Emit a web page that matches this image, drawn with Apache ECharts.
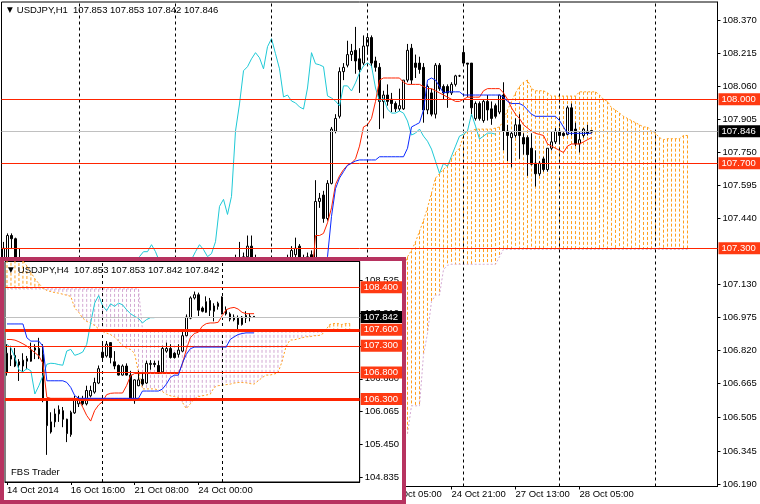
<!DOCTYPE html>
<html><head><meta charset="utf-8">
<script src="https://cdn.jsdelivr.net/npm/echarts@6/dist/echarts.min.js"></script>
<style>
html,body{margin:0;padding:0;background:#fff;overflow:hidden;}
#main{position:absolute;left:0;top:0;width:760px;height:504px;}
#insetBox{position:absolute;left:0;top:257px;width:406px;height:247px;box-sizing:border-box;border:4px solid #B73360;background:#fff;z-index:2;}
#inset{position:absolute;left:0;top:0;width:398px;height:239px;}
</style></head><body>
<div id="main"></div>
<div id="insetBox"><div id="inset"></div></div>
<script>
// ===== MAIN CHART (USDJPY, H1) =====
const mainTitle = 'USDJPY,H1  107.853 107.853 107.842 107.846';
const mainTickLabels = ['20 Oct 05:00','20 Oct 21:00','21 Oct 13:00','22 Oct 05:00','22 Oct 21:00','23 Oct 13:00','24 Oct 05:00','24 Oct 21:00','27 Oct 13:00','28 Oct 05:00'];
const mainYLabels = [108.370,108.215,108.060,107.905,107.750,107.595,107.440,107.130,106.975,106.820,106.665,106.505,106.345,106.190];
const mainLevels = [108.000,107.700,107.300];
const mainLevelWidths = [1,1,1];
const mainBid = 107.846;
const mainSeparators = [19,43,67,91,115,139,163];
// [open, close, low, high]
const mainCandles = [
[107.25,107.30,107.22,107.33],[107.25,107.36,107.22,107.37],[107.36,107.345,107.30,107.37],[107.345,107.25,107.18,107.35],[107.24,107.22,107.15,107.30],
[107.22,107.15,107.12,107.24],[107.15,107.10,107.07,107.18],[107.10,107.05,107.02,107.13],[107.05,107.00,106.97,107.08],[107.00,106.95,106.92,107.03],
[106.95,106.92,106.89,106.98],[106.92,106.90,106.86,106.95],[106.90,106.85,106.82,106.93],[106.85,106.80,106.77,106.88],[106.80,106.76,106.73,106.83],
[106.76,106.80,106.74,106.83],[106.80,106.86,106.78,106.89],[106.86,106.90,106.84,106.93],[106.90,106.92,106.87,106.95],[106.92,106.88,106.85,106.94],
[106.88,106.85,106.82,106.90],[106.85,106.80,106.77,106.87],[106.80,106.76,106.72,106.83],[106.76,106.60,106.56,106.78],[106.60,106.45,106.40,106.63],
[106.45,106.35,106.30,106.48],[106.35,106.30,106.25,106.38],[106.30,106.35,106.27,106.38],[106.35,106.45,106.33,106.48],[106.45,106.55,106.43,106.58],
[106.55,106.62,106.52,106.65],[106.62,106.66,106.59,106.69],[106.66,106.64,106.60,106.69],[106.64,106.62,106.58,106.67],[106.62,106.60,106.56,106.65],
[106.60,106.58,106.55,106.63],[106.58,106.62,106.56,106.65],[106.62,106.70,106.60,106.73],[106.70,106.80,106.68,106.83],[106.80,106.90,106.78,106.93],
[106.90,106.97,106.88,107.00],[106.97,106.96,106.93,107.00],[106.96,106.98,106.94,107.01],[106.98,106.95,106.92,107.01],[106.95,106.97,106.93,107.00],
[106.97,106.95,106.92,107.00],[106.95,106.90,106.87,106.98],[106.90,106.85,106.82,106.93],[106.85,106.80,106.77,106.88],[106.80,106.82,106.78,106.85],
[106.82,106.90,106.80,106.93],[106.90,107.00,106.88,107.03],[107.00,107.10,106.98,107.13],[107.10,107.15,107.08,107.18],[107.15,107.20,107.13,107.22],
[107.20,107.22,107.17,107.24],[107.22,107.20,107.16,107.24],
[107.20,107.23,107.17,107.25],[107.23,107.255,107.20,107.27],[107.25,107.24,107.20,107.33],[107.24,107.26,107.22,107.28],[107.26,107.31,107.24,107.36],
[107.31,107.25,107.22,107.36],[107.25,107.24,107.18,107.27],
[107.24,107.22,107.18,107.25],[107.22,107.15,107.12,107.24],[107.15,107.10,107.07,107.18],[107.10,107.05,107.02,107.13],[107.05,107.08,107.03,107.11],
[107.08,107.12,107.06,107.15],[107.12,107.18,107.10,107.22],
[107.20,107.25,107.18,107.27],[107.25,107.29,107.23,107.31],[107.27,107.30,107.24,107.35],[107.31,107.25,107.20,107.32],[107.25,107.24,107.20,107.27],
[107.22,107.26,107.20,107.28],[107.27,107.23,107.20,107.29],
[107.23,107.52,107.22,107.62],[107.52,107.535,107.49,107.56],[107.55,107.44,107.42,107.57],[107.44,107.605,107.43,107.62],[107.605,107.86,107.60,107.87],
[107.85,107.91,107.84,107.93],[107.92,108.13,107.91,108.15],[108.13,108.15,108.09,108.17],[108.16,108.21,108.15,108.275],[108.21,108.225,108.18,108.26],
[108.23,108.18,108.12,108.34],[108.19,108.14,108.03,108.24],[108.17,108.25,108.16,108.30],[108.25,108.29,108.21,108.31],[108.29,108.17,108.15,108.30],
[108.18,108.15,108.13,108.20],[108.15,107.99,107.86,108.17],[107.99,108.02,107.91,108.04],[108.02,107.99,107.97,108.07],[108.00,107.98,107.94,108.03],
[107.98,107.955,107.94,107.99],[107.955,107.97,107.945,108.05],[107.955,108.09,107.95,108.09],[108.09,108.23,108.08,108.26],[108.24,108.09,108.07,108.26],
[108.17,108.15,108.10,108.21],[108.17,108.14,108.12,108.20],[108.15,107.95,107.89,108.17],[107.95,108.06,107.93,108.07],[108.03,107.93,107.92,108.05],
[107.93,108.16,107.91,108.17],[108.16,108.05,108.04,108.17],[108.06,108.03,108.00,108.07],[108.06,108.03,107.96,108.07],[108.03,108.07,108.02,108.08],
[108.07,108.11,108.06,108.115],[108.11,108.11,108.105,108.115],[108.22,108.17,108.16,108.25],[108.17,108.165,108.01,108.17],[108.17,107.96,107.92,108.17],
[107.91,107.98,107.90,107.99],[107.98,107.91,107.90,107.99],[107.90,107.99,107.89,108.00],[107.99,107.95,107.90,108.02],[107.955,107.91,107.88,107.99],
[107.97,107.92,107.91,107.98],[107.94,108.02,107.93,108.02],[108.02,107.85,107.76,108.08],[107.85,107.83,107.71,107.88],[107.82,107.84,107.68,107.85],
[107.83,107.88,107.82,107.91],[107.88,107.83,107.72,107.93],[107.82,107.79,107.74,107.84],[107.82,107.74,107.64,107.83],[107.77,107.695,107.69,107.84],
[107.70,107.65,107.59,107.76],[107.65,107.70,107.64,107.71],[107.72,107.67,107.66,107.73],[107.67,107.77,107.66,107.77],[107.77,107.80,107.76,107.85],
[107.80,107.85,107.79,107.865],[107.85,107.83,107.79,107.865],[107.84,107.83,107.825,107.845],[107.835,107.96,107.83,107.97],[107.96,107.85,107.83,107.98],
[107.86,107.79,107.78,107.89],[107.79,107.81,107.75,107.85],[107.83,107.86,107.82,107.865],[107.85,107.84,107.83,107.88],[107.853,107.846,107.842,107.853]
];
const mainTenkan = [
107.10,107.10,107.10,107.10,107.10,107.10,107.10,107.10,107.10,107.10,107.10,
106.95,106.95,106.95,106.95,106.95,106.95,106.95,106.95,106.95,106.95,
106.80,106.80,106.80,106.80,106.80,106.80,106.80,106.80,106.80,106.80,
106.60,106.60,106.60,106.60,106.60,106.60,106.60,106.60,106.60,106.60,
106.75,106.75,106.75,106.75,106.75,106.75,106.75,106.75,106.75,106.75,
106.90,106.90,106.90,106.90,106.90,106.90,106.90,106.90,106.90,106.90,
107.05,107.05,107.05,107.05,107.05,107.05,107.05,107.05,107.05,107.05,
107.15,107.15,107.15,107.15,107.15,107.15,107.15,
107.36,107.36,107.37,107.42,107.49,107.60,107.64,107.67,107.69,107.70,
107.72,107.78,107.87,107.88,107.91,107.99,108.09,108.10,108.10,108.10,
108.10,108.10,108.08,108.07,108.07,108.07,108.07,108.06,108.05,108.05,
108.04,108.03,108.02,108.01,108.00,107.99,107.99,108.00,108.01,108.01,
108.01,108.01,108.04,108.05,108.05,108.05,108.05,108.03,108.00,107.96,
107.93,107.91,107.88,107.865,107.85,107.84,107.835,107.83,107.79,107.78,
107.77,107.76,107.75,107.78,107.79,107.79,107.79,107.80,107.81,107.82
];
const mainKijun = [
107.00,107.00,107.00,107.00,107.00,107.00,107.00,107.00,107.00,107.00,107.00,107.00,107.00,107.00,107.00,107.00,
107.00,107.00,107.00,107.00,107.00,107.00,107.00,107.00,107.00,107.00,107.00,107.00,107.00,107.00,107.00,
106.70,106.70,106.70,106.70,106.70,106.70,106.70,106.70,106.70,106.70,106.70,106.70,106.70,106.70,106.70,
106.70,106.70,106.70,106.70,106.70,106.70,106.70,106.70,106.70,106.70,106.70,106.70,106.70,106.70,106.70,
106.85,106.85,106.85,106.85,106.85,106.85,106.85,106.85,106.85,106.85,
106.85,106.85,106.85,106.85,106.85,106.85,106.85,106.85,106.85,106.85,
107.26,107.45,107.58,107.63,107.66,107.69,107.70,107.71,107.715,107.715,
107.715,107.715,107.715,107.73,107.73,107.73,107.73,107.73,107.73,107.73,
107.77,107.87,107.88,107.89,107.95,108.09,108.10,108.09,108.06,108.03,
108.035,108.035,108.035,108.035,
108.02,108.02,108.02,108.02,108.02,108.02,108.02,108.02,108.02,108.02,
108.01,107.99,107.98,107.98,107.98,107.97,107.95,107.93,
107.92,107.92,107.92,107.92,107.92,107.92,
107.90,107.87,107.84,
107.84,107.84,107.84,107.84,107.84,107.84
];
const mainChikou = [
106.45,106.35,106.30,106.35,106.45,106.55,106.62,106.66,106.64,106.62,106.60,106.58,106.62,106.70,106.80,106.90,106.97,
106.96,106.98,106.95,106.97,106.95,106.90,106.85,106.80,106.82,106.90,107.00,107.10,107.15,107.20,107.22,107.20,107.23,
107.261,107.284,107.284,107.317,107.284,107.237,107.19,107.15,107.10,107.08,107.12,107.18,107.22,107.247,107.284,107.317,
107.294,107.261,107.275,107.331,107.497,107.530,107.459,107.544,107.851,107.978,108.134,108.153,108.190,108.219,108.195,
108.143,108.247,108.285,108.214,108.143,108.011,108.020,107.992,107.983,107.964,107.954,108.053,108.219,108.167,108.162,
108.153,108.016,108.006,107.992,107.969,108.063,108.063,108.039,108.077,108.124,108.157,108.171,108.157,108.053,107.992,
108.006,107.954,107.935,107.935,107.945,107.935,107.898,107.832,107.841,107.860,107.827,107.803,107.766,107.709,107.652,
107.699,107.685,107.733,107.780,107.827,107.836,107.851,107.931,107.874,107.813,107.827,107.841,107.841,107.836
];
const mainSpanA = [
106.95,106.95,106.95,106.95,106.95,106.95,106.95,106.95,106.95,106.95,106.95,106.95,106.95,106.95,106.95,106.95,106.95,106.95,106.95,106.95,106.95,
106.85,106.85,106.85,106.85,106.85,106.85,106.85,106.85,106.85,106.85,106.85,106.85,106.85,106.85,106.85,106.85,106.85,106.85,106.85,106.85,
106.70,106.70,106.70,106.70,106.70,106.70,106.70,106.70,106.70,106.70,106.70,106.70,106.70,106.70,106.70,106.70,106.70,106.70,106.70,106.70,
106.60,106.60,106.60,106.60,106.60,106.60,106.60,106.60,106.60,106.60,106.60,106.60,106.60,106.60,106.60,106.60,106.60,106.60,106.60,106.60,
106.80,106.80,106.80,106.80,106.80,106.80,106.80,106.80,106.80,106.80,106.80,106.80,106.80,106.80,106.80,
107.00,107.05,107.10,107.15,107.20,
107.26,107.29,107.33,107.38,107.43,107.49,107.56,107.63,107.65,107.67,
107.69,107.72,107.75,107.77,107.83,107.85,107.85,107.86,107.86,107.86,
107.86,107.86,107.865,107.87,107.90,107.95,107.99,108.03,108.06,108.08,
108.09,108.05,108.04,108.04,108.04,108.03,108.015,108.015,108.015,108.015,
108.015,108.015,108.015,108.035,108.035,108.035,108.035,108.035,108.02,108.00,
107.99,107.96,107.95,107.935,107.92,107.91,107.90,107.89,107.88,107.87,
107.87,107.85,107.84,107.82,107.81,107.815,107.815,107.815,107.815,107.83,107.83
];
const mainSpanB = [
106.60,106.60,106.60,106.60,106.60,106.60,106.60,106.60,106.60,106.60,106.60,106.60,106.60,106.60,106.60,106.60,106.60,106.60,106.60,106.60,
106.60,106.60,106.60,106.60,106.60,106.60,106.60,106.60,106.60,106.60,106.60,106.60,106.60,106.60,106.60,106.60,106.60,106.60,106.60,106.60,
106.60,106.60,106.60,106.60,106.60,106.60,106.60,106.60,106.60,106.60,106.60,106.60,106.60,106.60,106.60,106.60,106.60,106.60,106.60,106.60,
106.60,106.60,106.60,106.60,106.60,106.60,106.60,106.60,106.60,106.60,106.60,106.60,106.60,106.60,106.60,106.60,106.60,106.60,106.60,106.60,106.60,
106.43,106.43,106.43,106.43,106.43,106.43,106.43,106.43,106.43,106.43,106.43,106.43,106.43,106.43,106.43,106.43,106.43,106.43,106.43,106.43,
106.43,106.56,106.56,106.56,106.80,106.90,107.05,107.08,107.08,107.20,107.22,
107.225,107.225,107.225,107.225,107.225,107.225,107.225,107.225,107.225,107.225,107.225,107.225,
107.26,
107.295,107.295,107.295,107.295,107.295,107.295,107.295,107.295,107.295,107.295,107.295,107.295,107.295,107.295,107.295,107.295,
107.295,107.295,107.295,107.295,107.295,107.295,107.295,107.295,107.295,107.295,107.295,107.295,107.295,107.295,107.295,107.295,
107.295,107.295,107.295,107.295,107.295,107.295,107.295,107.295,107.295,107.295,107.295,107.295,107.295,107.295,107.295
];

// ===== INSET CHART (USDJPY, H4) =====
const insetTitle = 'USDJPY,H4  107.853 107.853 107.842 107.842';
const insetTickLabels = ['14 Oct 2014','16 Oct 16:00','21 Oct 08:00','24 Oct 00:00'];
const insetYLabels = [108.525,107.910,107.295,106.680,106.065,105.450,104.835];
const insetLevels = [108.400,107.600,107.300,106.800,106.300];
const insetLevelWidths = [1,3,1,1,3];
const insetBid = 107.842;
const insetSeparators = [24,54];
const insetCandles = [
[106.80,107.16,106.74,107.33],[107.05,107.12,106.92,107.30],[107.12,106.92,106.90,107.26],[107.00,106.94,106.64,107.05],[106.92,107.03,106.80,107.16],
[107.01,107.06,106.86,107.11],[107.01,107.22,107.00,107.36],[107.22,107.26,107.05,107.33],[107.25,107.12,107.05,107.45],[107.14,106.27,106.24,107.33],
[106.27,105.80,105.25,106.30],[105.68,105.87,105.65,106.05],[105.87,106.02,105.77,106.12],[106.02,106.10,105.87,106.18],[106.08,105.92,105.77,106.15],
[105.92,105.65,105.49,105.93],[105.63,106.05,105.59,106.08],[106.04,106.30,106.02,106.36],[106.21,106.30,106.15,106.36],[106.31,106.21,106.18,106.36],
[106.21,106.46,106.18,106.55],[106.36,106.46,106.33,106.55],[106.43,106.61,106.40,106.70],[106.60,106.87,106.58,106.93],[107.18,107.08,107.05,107.38],
[107.11,107.33,107.08,107.39],[107.36,107.08,106.97,107.37],[107.00,106.92,106.86,107.20],[106.93,106.75,106.74,106.95],[106.75,106.92,106.74,106.95],
[106.92,106.75,106.74,106.97],[106.75,106.30,106.27,106.83],[106.27,106.66,106.21,106.67],[106.55,106.66,106.54,106.83],[106.67,106.58,106.55,106.80],
[106.60,106.97,106.58,107.02],[106.95,106.97,106.85,107.03],[106.97,106.95,106.90,107.02],[106.93,106.80,106.77,107.02],[106.81,107.25,106.80,107.30],
[107.20,107.25,107.17,107.36],[107.25,107.08,107.06,107.33],[107.16,107.08,107.06,107.18],[107.14,107.22,107.08,107.33],[107.20,107.49,107.18,107.58],
[107.49,107.84,107.48,107.89],[107.82,108.20,107.80,108.23],[108.20,108.26,108.17,108.32],[108.26,107.97,107.86,108.30],[108.01,107.95,107.93,108.04],
[107.93,108.13,107.92,108.23],[108.15,107.97,107.86,108.20],[108.05,107.95,107.76,108.10],[108.04,108.10,107.98,108.13],[108.22,107.93,107.89,108.23],
[107.98,107.90,107.87,108.04],[107.90,107.80,107.76,107.93],[107.84,107.79,107.76,107.89],[107.82,107.70,107.58,107.87],[107.70,107.84,107.68,107.86],
[107.82,107.87,107.73,107.95],[107.83,107.855,107.76,107.91],[107.853,107.842,107.842,107.853]
];
const insetTenkan = [
107.419,107.419,107.407,107.376,107.338,107.295,107.233,107.171,107.109,106.972,106.332,
106.313,106.313,106.313,106.313,106.313,106.313,106.313,
106.289,106.146,105.991,105.885,106.084,106.189,106.251,106.382,106.407,106.413,106.413,106.413,106.550,106.736,
106.779,106.779,106.779,106.779,106.779,106.779,106.779,106.779,106.779,106.779,106.779,106.779,
106.953,107.233,107.450,107.531,107.556,107.668,107.717,107.730,107.730,107.742,107.867,107.978,108.009,108.022,107.991,107.929,107.904,107.904,107.904
];
const insetKijun = [
107.711,107.711,107.711,107.711,107.711,107.450,107.388,107.388,107.388,107.295,
106.643,106.643,106.643,106.643,106.643,106.612,106.518,106.363,
106.313,106.313,106.313,106.313,106.313,106.313,106.313,106.313,106.313,106.313,106.313,106.313,106.313,106.313,106.313,106.313,
106.450,106.450,106.450,106.450,106.450,106.487,106.581,106.705,106.748,106.748,106.972,107.140,107.245,
107.276,107.276,107.276,107.276,107.276,107.276,107.276,107.276,107.276,
107.419,107.469,107.512,107.531,107.543,107.543,107.543
];
const insetChikou = [
107.326,107.264,107.078,106.848,106.811,106.873,106.829,106.394,106.549,106.736,
106.953,106.972,106.966,106.947,106.935,107.202,107.233,107.121,107.146,107.183,
107.326,107.730,108.103,108.245,108.053,107.960,108.090,108.041,108.103,108.071,
107.979,107.904,107.854,107.817,107.730,107.792,107.829,107.829
];
const insetSpanA = [
109.10,109.05,109.00,108.95,108.90,108.80,108.68,108.56,108.47,108.39,
108.34,108.32,108.30,108.29,108.27,108.25,108.23,108.01,107.93,107.82,
107.76,107.73,107.68,107.62,107.57,107.54,107.51,107.46,107.39,107.30,
107.26,107.23,107.16,106.80,106.49,106.49,106.49,106.49,106.47,106.44,
106.39,106.36,106.345,106.33,106.24,106.12,106.21,106.30,106.345,106.36,
106.375,106.39,106.52,106.55,106.56,106.57,106.58,106.60,106.61,106.61,
106.605,106.59,106.58,106.64,106.70,106.75,106.75,106.77,106.79,107.00,
107.28,107.41,107.41,107.43,107.45,107.47,107.47,107.49,107.49,107.51,
107.60,107.70,107.72,107.72,107.70,107.72,107.72
];
const insetSpanB = [
108.37,108.37,108.37,108.37,108.37,108.37,108.37,108.37,108.37,108.37,
108.37,108.37,108.37,108.37,108.37,108.37,108.37,108.37,108.37,108.37,
108.37,108.37,108.37,108.37,108.37,108.37,108.37,108.37,108.37,108.37,
108.37,108.37,108.37,108.37,
107.60,107.60,107.60,107.60,107.60,107.60,107.60,107.60,107.60,107.60,
107.60,107.60,107.60,107.60,107.60,107.60,107.60,107.60,107.60,107.60,
107.60,107.60,107.60,107.60,107.60,107.60,107.60,107.60,107.60,107.60,
107.60,107.60,107.60,107.60,107.60,107.60,107.60,107.60,107.60,107.60,
107.60,107.60,107.60,107.60,107.60,107.60,107.60,107.60,107.60,107.60,
107.60,107.60,107.60
];

// ===== styling =====
const FONT = "'Liberation Sans', Arial, sans-serif";
const RED = '#FF2400', LABEL_RED = '#FF3A12', BLUE = '#0A28FF', CYAN = '#1FC9D6',
      ORANGE = '#FFA020', THISTLE = '#D3A8D3', BIDC = '#C0C0C0';

// one line series per cloud colour: vertical segments [i, upper] -> [i, lower], broken by gaps
function hatchSeries(name, segs, color) {
  const pts = [];
  segs.forEach(s => { pts.push([s[0], s[1]]); pts.push([s[0], s[2]]); pts.push('-'); });
  return {
    type: 'line', name: name, z: 1, silent: true, clip: true,
    symbol: 'none', showSymbol: false, connectNulls: false, animation: false,
    lineStyle: {color: color, width: 1, type: [3, 2], opacity: 1},
    itemStyle: {color: color},
    data: pts
  };
}

function buildOption(c) {
  const cats = Array.from({length: c.count}, (_, i) => String(i));
  const isTick = (i) => i % 16 === 0 && (i / 16) < c.tickLabels.length;
  const upCloud = [], downCloud = [];
  c.spanA.forEach((a, i) => {
    const b = c.spanB[i];
    if (a >= b) upCloud.push([i, a, b]); else downCloud.push([i, b, a]);
  });
  const lbl = (txt, bg) => ({
    show: true, position: 'end', distance: 1, formatter: txt, color: '#fff',
    backgroundColor: bg, padding: [1, 5, 0, 3], lineHeight: 11,
    fontSize: 9.5, fontFamily: FONT
  });
  const levelData = c.levels.map((v, k) => ({
    yAxis: v, lineStyle: {color: RED, width: c.levelWidths[k], type: 'solid'},
    label: lbl(v.toFixed(3), LABEL_RED)
  }));
  levelData.push({yAxis: c.bid, lineStyle: {color: BIDC, width: 1, type: 'solid'},
    label: lbl(c.bid.toFixed(3), '#000')});
  return {
    animation: false,
    title: [
      {left: c.titlePos[0], top: c.titlePos[1], padding: 0,
       text: '{t|\u25BC}' + c.title,
       textStyle: {fontFamily: FONT, fontSize: 9.5, fontWeight: 'normal', color: '#000',
         rich: {t: {fontSize: 7.5, fontFamily: 'DejaVu Sans', padding: [0, 4, 0, 0], color: '#000'}}}}
    ].concat(c.extraTitles || []),
    grid: Object.assign({show: true, borderColor: '#000', borderWidth: 1, containLabel: false}, c.grid),
    xAxis: {
      type: 'category', data: cats, boundaryGap: true,
      axisLine: {show: true, lineStyle: {color: '#000', width: 1}},
      axisTick: {show: true, interval: (i) => isTick(i), alignWithLabel: true, length: 3, lineStyle: {color: '#000'}},
      axisLabel: {show: true, interval: (i) => isTick(i), align: 'left', margin: 3,
        formatter: (v, i) => c.tickLabels[i / 16], color: '#000', fontFamily: FONT, fontSize: 9.5},
      splitLine: {show: false}
    },
    yAxis: {
      type: 'value', position: 'right', min: c.yMin, max: c.yMax,
      axisLine: {show: true, lineStyle: {color: '#000', width: 1}},
      axisTick: {show: true, length: 3, customValues: c.yLabels, lineStyle: {color: '#000'}},
      axisLabel: {show: true, margin: 5, customValues: c.yLabels, formatter: (v) => v.toFixed(3),
        color: '#000', fontFamily: FONT, fontSize: 9.5},
      splitLine: {show: false}
    },
    series: [
      hatchSeries('cloudUp', upCloud, ORANGE),
      hatchSeries('cloudDown', downCloud, THISTLE),
      {
        type: 'line', name: 'spanB', z: 2, data: c.spanB, symbol: 'none', silent: true,
        lineStyle: {color: THISTLE, width: 1, type: [2, 2]},
        markLine: {silent: true, symbol: ['none', 'none'], animation: false,
          lineStyle: {color: '#000', width: 1, type: [3, 3]}, label: {show: false},
          data: c.separators.map(s => ({xAxis: String(s)}))}
      },
      {type: 'line', name: 'spanA', z: 2, data: c.spanA, symbol: 'none', silent: true,
        lineStyle: {color: ORANGE, width: 1, type: [2, 2]}},
      {
        type: 'candlestick', name: 'price', z: 3, data: c.candles, barWidth: 2, silent: true,
        itemStyle: {color: '#fff', color0: '#000', borderColor: '#000', borderColor0: '#000', borderWidth: 1}
      },
      {type: 'line', name: 'chikou', z: 4, data: c.chikou, symbol: 'none', silent: true,
        lineStyle: {color: CYAN, width: 1}},
      {type: 'line', name: 'tenkan', z: 4, data: c.tenkan, symbol: 'none', silent: true,
        lineStyle: {color: RED, width: 1}},
      {
        type: 'line', name: 'kijun', z: 5, data: c.kijun, symbol: 'none', silent: true,
        lineStyle: {color: BLUE, width: 1},
        markLine: {silent: true, symbol: ['none', 'none'], animation: false, data: levelData}
      }
    ]
  };
}

const mainChart = echarts.init(document.getElementById('main'), null, {renderer: 'canvas'});
mainChart.setOption(buildOption({
  count: 179, title: mainTitle, titlePos: [7, 5], tickLabels: mainTickLabels,
  yMin: 106.181, yMax: 108.457, yLabels: mainYLabels,
  levels: mainLevels, levelWidths: mainLevelWidths, bid: mainBid, separators: mainSeparators,
  candles: mainCandles, tenkan: mainTenkan, kijun: mainKijun, chikou: mainChikou,
  spanA: mainSpanA, spanB: mainSpanB,
  grid: {left: 1.5, right: 42.5, top: 2, bottom: 17.5}
}));

const insetChart = echarts.init(document.getElementById('inset'), null, {renderer: 'canvas'});
insetChart.setOption(buildOption({
  count: 89, title: insetTitle, titlePos: [4, 4], tickLabels: insetTickLabels,
  yMin: 104.74, yMax: 108.885, yLabels: insetYLabels,
  levels: insetLevels, levelWidths: insetLevelWidths, bid: insetBid, separators: insetSeparators,
  candles: insetCandles, tenkan: insetTenkan, kijun: insetKijun, chikou: insetChikou,
  spanA: insetSpanA, spanB: insetSpanB,
  grid: {left: 0.5, right: 41.5, top: 0.5, bottom: 18},
  extraTitles: [{left: 7, top: 206, padding: 0, text: 'FBS Trader',
    textStyle: {fontFamily: FONT, fontSize: 9.5, fontWeight: 'normal', color: '#000'}}]
}));
</script>
</body></html>
